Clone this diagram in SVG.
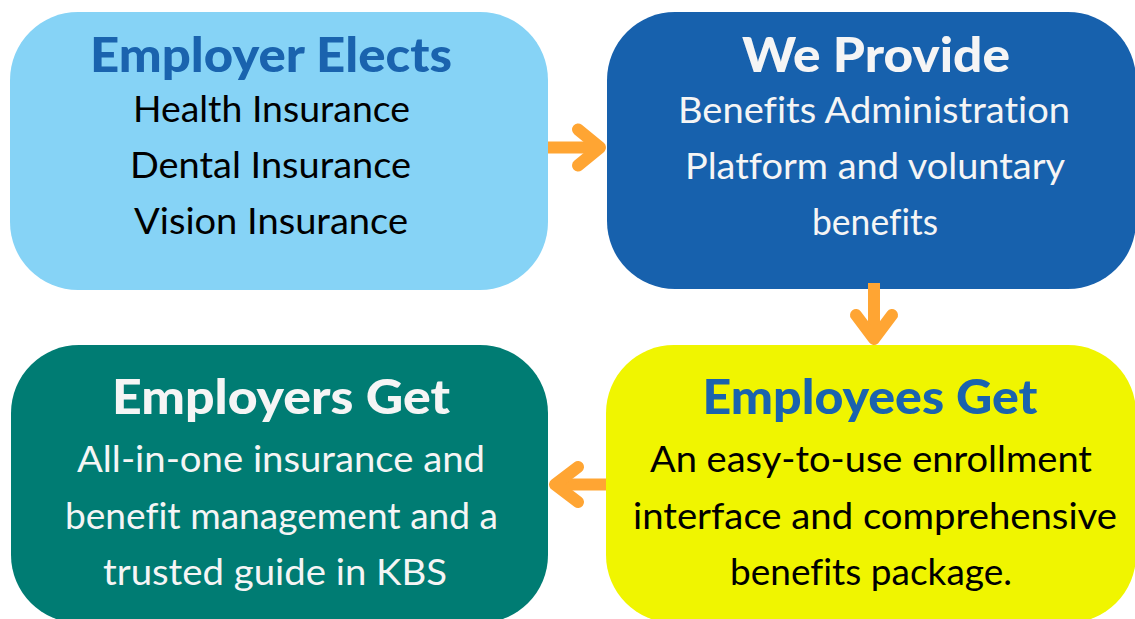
<svg xmlns="http://www.w3.org/2000/svg" width="1135" height="619" viewBox="0 0 1135 619">
<style>
  .box { stroke: none; }
  .title { font-family: "Lato", "Liberation Sans", sans-serif; font-weight: 900; font-size: 47px; text-anchor: middle; font-variant-ligatures: none; font-feature-settings: "liga" 0, "clig" 0; }
  .body { font-family: "Lato", "Liberation Sans", sans-serif; font-size: 36px; text-anchor: middle; font-variant-ligatures: none; font-feature-settings: "liga" 0, "clig" 0; }
  .blue { fill: #1A63AE; }
  .white { fill: #F5F5F5; }
  .black { fill: #000000; }
  .shaft { stroke: #FFA533; stroke-width: 12; fill: none; stroke-linecap: butt; }
  .head { stroke: #FFA533; stroke-width: 12; fill: none; stroke-linecap: round; stroke-linejoin: round; }
</style>
<rect width="1135" height="619" fill="#FFFFFF"/>
<g id="employer-elects">
  <rect class="box" x="10" y="12" width="538" height="278" rx="68" ry="68" fill="#86D3F6"/>
  <text class="title blue" x="271" y="72" textLength="362" lengthAdjust="spacingAndGlyphs">Employer Elects</text>
  <text class="body black" x="271.5" y="122" textLength="277" lengthAdjust="spacingAndGlyphs">Health Insurance</text>
  <text class="body black" x="270.5" y="178" textLength="281" lengthAdjust="spacingAndGlyphs">Dental Insurance</text>
  <text class="body black" x="271" y="234" textLength="274" lengthAdjust="spacingAndGlyphs">Vision Insurance</text>
</g>
<g id="we-provide">
  <rect class="box" x="607" y="12" width="529" height="277" rx="68" ry="68" fill="#1761AD"/>
  <text class="title white" x="876" y="72" textLength="268" lengthAdjust="spacingAndGlyphs">We Provide</text>
  <text class="body white" x="874" y="123" textLength="392" lengthAdjust="spacingAndGlyphs">Benefits Administration</text>
  <text class="body white" x="875" y="179" textLength="380" lengthAdjust="spacingAndGlyphs">Platform and voluntary</text>
  <text class="body white" x="875" y="235" textLength="126" lengthAdjust="spacingAndGlyphs">benefits</text>
</g>
<g id="employees-get">
  <rect class="box" x="606" y="345" width="530" height="278" rx="68" ry="68" fill="#F0F500"/>
  <text class="title blue" x="870" y="414" textLength="335" lengthAdjust="spacingAndGlyphs">Employees Get</text>
  <text class="body black" x="871" y="472" textLength="442" lengthAdjust="spacingAndGlyphs">An easy-to-use enrollment</text>
  <text class="body black" x="875" y="529" textLength="484" lengthAdjust="spacingAndGlyphs">interface and comprehensive</text>
  <text class="body black" x="871" y="585" textLength="282" lengthAdjust="spacingAndGlyphs">benefits package.</text>
</g>
<g id="employers-get">
  <rect class="box" x="11" y="345" width="537" height="278" rx="68" ry="68" fill="#007C73"/>
  <text class="title white" x="281" y="414" textLength="338" lengthAdjust="spacingAndGlyphs">Employers Get</text>
  <text class="body white" x="281" y="472" textLength="408" lengthAdjust="spacingAndGlyphs">All-in-one insurance and</text>
  <text class="body white" x="281.5" y="529" textLength="433" lengthAdjust="spacingAndGlyphs">benefit management and a</text>
  <text class="body white" x="275" y="585" textLength="344" lengthAdjust="spacingAndGlyphs">trusted guide in KBS</text>
</g>
<g id="connectors">
  <line class="shaft" x1="548" y1="147.5" x2="598" y2="147.5"/>
  <polyline class="head" points="578,129.5 600,147.5 578,165.5"/>
  <line class="shaft" x1="874" y1="283" x2="874" y2="337"/>
  <polyline class="head" points="856,315 874,339 892,315"/>
  <line class="shaft" x1="606" y1="484.5" x2="557" y2="484.5"/>
  <polyline class="head" points="578,467 555,484.5 578,502"/>
</g>
</svg>
